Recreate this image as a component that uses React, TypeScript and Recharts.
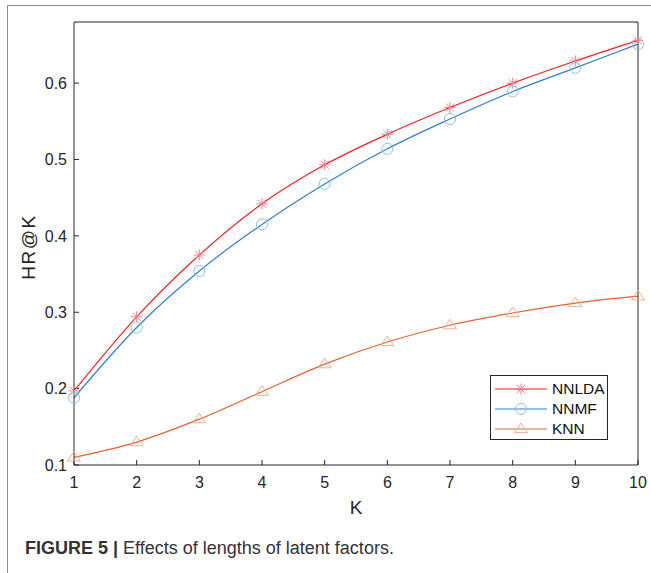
import { LineChart, Line, XAxis, YAxis, Label, Legend } from "recharts";

const kValues = [1, 2, 3, 4, 5, 6, 7, 8, 9, 10];
const nnlda = [0.197, 0.294, 0.375, 0.442, 0.493, 0.533, 0.568, 0.6, 0.629, 0.656];
const nnmf = [0.188, 0.28, 0.354, 0.415, 0.468, 0.514, 0.553, 0.589, 0.62, 0.651];
const knn = [0.11, 0.13, 0.16, 0.196, 0.232, 0.261, 0.283, 0.299, 0.312, 0.321];

const xTicks = [1, 2, 3, 4, 5, 6, 7, 8, 9, 10];
const yTicks = [0.1, 0.2, 0.3, 0.4, 0.5, 0.6];

const data = kValues.map((k, i) => ({ k, nnlda: nnlda[i], nnmf: nnmf[i], knn: knn[i] }));

const FONT = "'Liberation Sans', Arial, Helvetica, sans-serif";
const AXIS = "#262626";

const series = [
  { key: "nnlda", name: "NNLDA", line: "#f41f24", marker: "#e8808f", shape: "star" },
  { key: "nnmf", name: "NNMF", line: "#2f7ed0", marker: "#8cc2dc", shape: "circle" },
  { key: "knn", name: "KNN", line: "#e8602c", marker: "#e9b196", shape: "triangle" },
];

function Marker({ cx, cy, shape, color }: { cx: number; cy: number; shape: string; color: string }) {
  if (cx == null || cy == null) return null;
  if (shape === "star") {
    const r = 5.5;
    const d = r * 0.72;
    return (
      <g stroke={color} strokeWidth={1}>
        <line x1={cx - r} y1={cy} x2={cx + r} y2={cy} />
        <line x1={cx} y1={cy - r} x2={cx} y2={cy + r} />
        <line x1={cx - d} y1={cy - d} x2={cx + d} y2={cy + d} />
        <line x1={cx - d} y1={cy + d} x2={cx + d} y2={cy - d} />
      </g>
    );
  }
  if (shape === "circle") {
    return <circle cx={cx} cy={cy} r={5.5} fill="none" stroke={color} strokeWidth={1} />;
  }
  const h = 6;
  return (
    <polygon
      points={`${cx},${cy - h} ${cx - 6.5},${cy + h * 0.6} ${cx + 6.5},${cy + h * 0.6}`}
      fill="none"
      stroke={color}
      strokeWidth={1}
    />
  );
}

function LegendBox() {
  return (
    <div
      style={{
        width: 116,
        height: 63,
        border: `1px solid ${AXIS}`,
        background: "#fff",
        fontFamily: FONT,
        fontSize: 15.5,
        color: "#111",
        boxSizing: "content-box",
      }}
    >
      {series.map((s, i) => (
        <div key={s.key} style={{ position: "absolute", left: 0, top: 4 + i * 20, height: 20, width: 118 }}>
          <svg width={56} height={20} style={{ position: "absolute", left: 4, top: 0 }}>
            <line x1={1} y1={10} x2={53} y2={10} stroke={s.line} strokeWidth={1.2} />
            <Marker cx={27} cy={10} shape={s.shape} color={s.marker} />
          </svg>
          <span style={{ position: "absolute", left: 62, top: 1, lineHeight: "18px" }}>{s.name}</span>
        </div>
      ))}
    </div>
  );
}

export default function App() {
  return (
    <div style={{ position: "absolute", left: 0, top: 0, width: 651, height: 573, background: "#fff", overflow: "hidden" }}>
      {/* figure frame */}
      <div
        style={{
          position: "absolute",
          left: 7,
          top: 5,
          width: 700,
          height: 600,
          borderTop: "1.5px solid #8c8c8c",
          borderLeft: "1.5px solid #8c8c8c",
        }}
      />
      <div style={{ position: "absolute", left: 0, top: 0 }}>
        <LineChart width={651} height={573} data={data} margin={{ top: 21, right: 12, bottom: 58, left: 14 }}>
          <XAxis
            dataKey="k"
            type="number"
            domain={[1, 10]}
            ticks={xTicks}
            height={50}
            tickSize={-5}
            tickMargin={17}
            stroke={AXIS}
            tick={{ fill: AXIS, fontSize: 16, fontFamily: FONT }}
          >
            <Label value="K" position="insideTop" offset={36} style={{ fill: AXIS, fontSize: 19, fontFamily: FONT }} />
          </XAxis>
          <XAxis
            xAxisId="top"
            orientation="top"
            dataKey="k"
            type="number"
            domain={[1, 10]}
            ticks={xTicks}
            height={1}
            tickSize={-5}
            tick={false}
            stroke={AXIS}
          />
          <YAxis
            type="number"
            domain={[0.1, 0.68]}
            allowDataOverflow
            ticks={yTicks}
            width={60}
            tickSize={-5}
            tickMargin={12}
            stroke={AXIS}
            tickFormatter={(v: number) => String(Number(v.toFixed(1)))}
            tick={{ fill: AXIS, fontSize: 16, fontFamily: FONT }}
          >
            <Label
              content={() => (
                <text
                  x={28}
                  y={247}
                  transform="rotate(-90, 28, 247)"
                  textAnchor="middle"
                  dominantBaseline="central"
                  fill={AXIS}
                  fontSize={19}
                  fontFamily={FONT}
                  letterSpacing={1.5}
                >
                  HR@K
                </text>
              )}
            />
          </YAxis>
          <YAxis
            yAxisId="right"
            orientation="right"
            type="number"
            domain={[0.1, 0.68]}
            ticks={yTicks}
            width={1}
            tickSize={-5}
            tick={false}
            stroke={AXIS}
          />
          <Legend
            layout="vertical"
            align="center"
            verticalAlign="middle"
            wrapperStyle={{ left: 490, top: 375, width: 118, height: 65 }}
            content={() => <LegendBox />}
          />
          {series.map((s) => (
            <Line
              key={s.key}
              dataKey={s.key}
              name={s.name}
              type="monotone"
              stroke={s.line}
              strokeWidth={1.2}
              isAnimationActive={false}
              dot={(p: any) => <Marker key={`${s.key}-${p.index}`} cx={p.cx} cy={p.cy} shape={s.shape} color={s.marker} />}
              activeDot={false}
            />
          ))}
        </LineChart>
      </div>
      <div
        style={{
          position: "absolute",
          left: 25,
          top: 538,
          fontFamily: FONT,
          fontSize: 18,
          color: "#333",
          whiteSpace: "nowrap",
        }}
      >
        <b>FIGURE 5 |</b> Effects of lengths of latent factors.
      </div>
    </div>
  );
}
